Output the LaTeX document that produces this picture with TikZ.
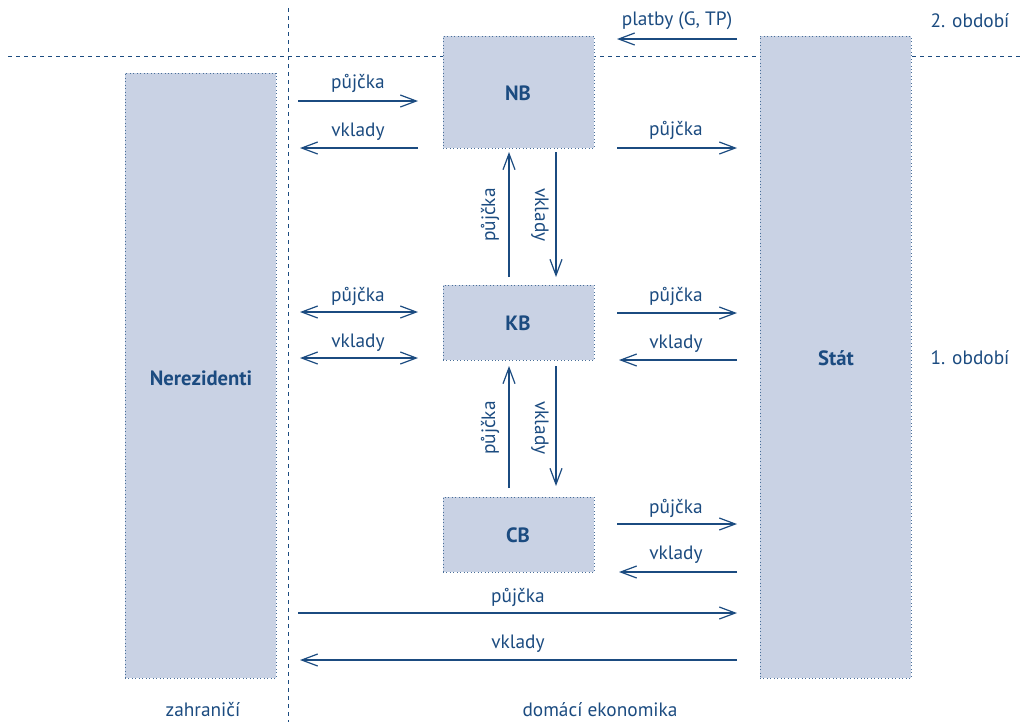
\documentclass[tikz,border=0pt]{standalone}
\usepackage{fontspec}
\setmainfont{PT Sans}
\usetikzlibrary{arrows.meta}
\definecolor{ink}{HTML}{1B4B80}
\definecolor{boxfill}{HTML}{C9D2E4}
\tikzset{
  box/.style={fill=boxfill, draw=ink!80, dotted, line width=0.6pt, inner sep=0pt},
  boxlbl/.style={text=ink, font=\fontsize{15.5}{17}\selectfont\bfseries},
  flow/.style={draw=ink, line width=0.9pt, -{Straight Barb[length=12pt,width=9pt,line width=0.9pt]}},
  flow2/.style={draw=ink, line width=0.9pt, {Straight Barb[length=12pt,width=9pt,line width=0.9pt]}-{Straight Barb[length=12pt,width=9pt,line width=0.9pt]}},
  sep/.style={draw=ink, dashed, dash pattern=on 3pt off 3pt, line width=0.6pt},
}
\begin{document}
\begin{tikzpicture}[x=0.75pt,y=-0.75pt, every node/.style={text=ink, font=\fontsize{14.5}{16}\selectfont}]
\useasboundingbox (0,0) rectangle (1023,722);
% separators
\draw[sep] (288,8) coordinate (v1) -- (288,722) coordinate (v2);
\draw[sep] (8,56) coordinate (h1) -- (1023,56) coordinate (h2);
% boxes
\node[box, minimum width=151*0.75pt, minimum height=605*0.75pt] (NR) at (200.5,375.5) {};
\node[boxlbl] (NRl) at (201,378) {Nerezidenti};
\node[box, minimum width=151*0.75pt, minimum height=112*0.75pt] (NB) at (518.5,92) {};
\node[boxlbl] (NBl) at (518,93) {NB};
\node[box, minimum width=151*0.75pt, minimum height=75*0.75pt] (KB) at (518.5,322.5) {};
\node[boxlbl] (KBl) at (518,323) {KB};
\node[box, minimum width=151*0.75pt, minimum height=75*0.75pt] (CB) at (518.5,534.5) {};
\node[boxlbl] (CBl) at (518,535) {CB};
\node[box, minimum width=151*0.75pt, minimum height=642*0.75pt] (ST) at (835.5,357) {};
\node[boxlbl] (STl) at (836,358) {Stát};
% period labels
\node (p2) at (970,21) {2. období};
\node (p1) at (970,358) {1. období};
\node (za) at (203,710) {zahraničí};
\node (de) at (600,710) {domácí ekonomika};
% top
\draw[flow] (737,39) coordinate (a1) -- (617,39) coordinate (a2);
\node (t1) at (677,21) {platby (G, TP)};
% NB left
\draw[flow] (298,101) coordinate (b1) -- (418,101) coordinate (b2);
\node (t2) at (358,83) {půjčka};
\draw[flow] (418,148) coordinate (b3) -- (300,148) coordinate (b4);
\node (t3) at (358,132) {vklady};
% NB right
\draw[flow] (617,148) coordinate (c1) -- (737,148) coordinate (c2);
\node (t4) at (676,130) {půjčka};
% NB-KB vertical
\draw[flow] (509,277) coordinate (d1) -- (509,152) coordinate (d2);
\node[rotate=90] (t5) at (490,215) {půjčka};
\draw[flow] (556,152) coordinate (d3) -- (556,277) coordinate (d4);
\node[rotate=-90] (t6) at (540,215) {vklady};
% KB left
\draw[flow2] (300,312) coordinate (e1) -- (418,312) coordinate (e2);
\node (t7) at (358,296) {půjčka};
\draw[flow2] (300,358) coordinate (e3) -- (418,358) coordinate (e4);
\node (t8) at (358,343) {vklady};
% KB right
\draw[flow] (617,313) coordinate (f1) -- (737,313) coordinate (f2);
\node (t9) at (676,296) {půjčka};
\draw[flow] (737,360) coordinate (f3) -- (619,360) coordinate (f4);
\node (t10) at (676,344) {vklady};
% KB-CB vertical
\draw[flow] (509,488) coordinate (g1) -- (509,366) coordinate (g2);
\node[rotate=90] (t11) at (490,428) {půjčka};
\draw[flow] (556,366) coordinate (g3) -- (556,486) coordinate (g4);
\node[rotate=-90] (t12) at (540,428) {vklady};
% CB right
\draw[flow] (617,524) coordinate (h3) -- (737,524) coordinate (h4);
\node (t13) at (676,508) {půjčka};
\draw[flow] (737,572) coordinate (h5) -- (619,572) coordinate (h6);
\node (t14) at (676,555) {vklady};
% bottom
\draw[flow] (298,613) coordinate (i1) -- (737,613) coordinate (i2);
\node (t15) at (518,597) {půjčka};
\draw[flow] (737,660) coordinate (i3) -- (300,660) coordinate (i4);
\node (t16) at (518,644) {vklady};
\end{tikzpicture}
\end{document}
